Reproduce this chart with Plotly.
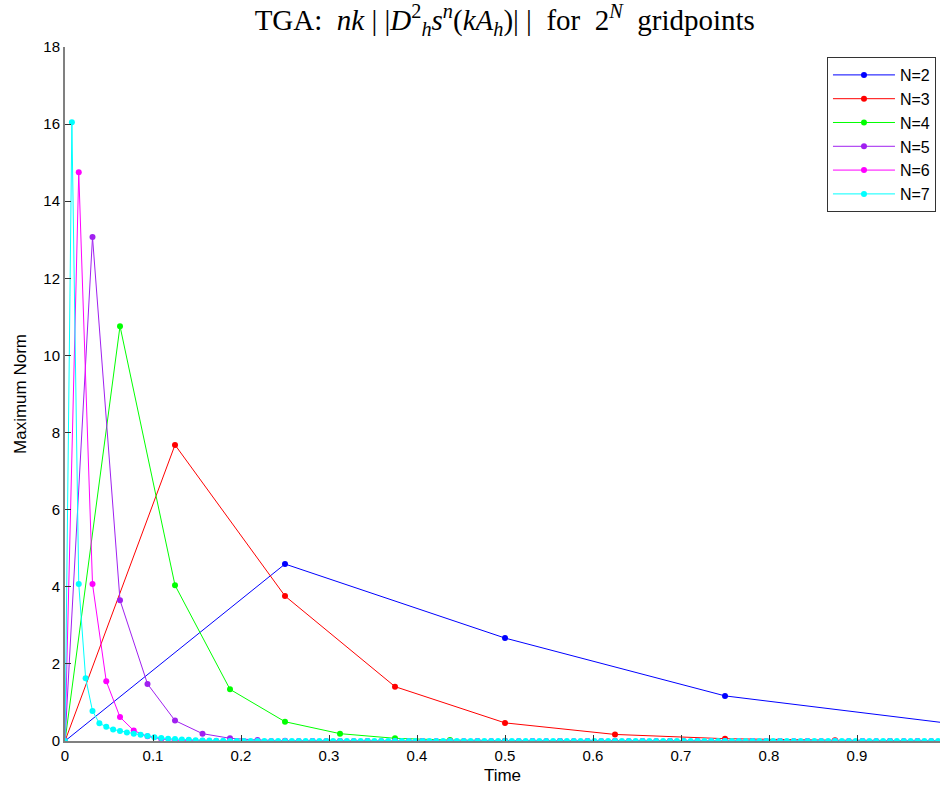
import numpy as np
import plotly.graph_objects as go

series_names = ["N=2", "N=3", "N=4", "N=5", "N=6", "N=7"]
series_colors = ["#0000ff", "#ff0000", "#00ff00", "#a020f0", "#ff00ff", "#00ffff"]

n2 = [0, 4.59, 2.67, 1.17, 0.47]
n3 = [0, 7.68, 3.76, 1.41, 0.47, 0.17, 0.06, 0.02, 0.007]
n4 = [0, 10.76, 4.04, 1.34, 0.50, 0.19, 0.07, 0.025, 0.009, 0.003,
      0.001, 0.0004, 0.0001, 0, 0, 0, 0]
n5 = [0, 13.07, 3.65, 1.48, 0.53, 0.19, 0.07, 0.025, 0.009, 0.003,
      0.001, 0, 0, 0, 0, 0, 0, 0, 0, 0,
      0, 0, 0, 0, 0, 0, 0, 0, 0, 0,
      0, 0, 0]
n6 = [0, 14.75, 4.07, 1.55, 0.62, 0.27, 0.12, 0.05, 0.02, 0.01,
      0.004, 0.002, 0.001, 0, 0, 0, 0, 0, 0, 0,
      0, 0, 0, 0, 0, 0, 0, 0, 0, 0,
      0, 0, 0, 0, 0, 0, 0, 0, 0, 0,
      0, 0, 0, 0, 0, 0, 0, 0, 0, 0,
      0, 0, 0, 0, 0, 0, 0, 0, 0, 0,
      0, 0, 0, 0, 0]
n7 = [0, 16.05, 4.07, 1.63, 0.78, 0.46, 0.37, 0.30, 0.26, 0.22,
      0.19, 0.16, 0.13, 0.10, 0.08, 0.06, 0.05, 0.04, 0.03, 0.02,
      0.015, 0.01, 0.007, 0.005, 0.003, 0.002, 0.001, 0, 0, 0,
      0, 0, 0, 0, 0, 0, 0, 0, 0, 0,
      0, 0, 0, 0, 0, 0, 0, 0, 0, 0,
      0, 0, 0, 0, 0, 0, 0, 0, 0, 0,
      0, 0, 0, 0, 0, 0, 0, 0, 0, 0,
      0, 0, 0, 0, 0, 0, 0, 0, 0, 0,
      0, 0, 0, 0, 0, 0, 0, 0, 0, 0,
      0, 0, 0, 0, 0, 0, 0, 0, 0, 0,
      0, 0, 0, 0, 0, 0, 0, 0, 0, 0,
      0, 0, 0, 0, 0, 0, 0, 0, 0, 0,
      0, 0, 0, 0, 0, 0, 0, 0, 0]
series_values = [n2, n3, n4, n5, n6, n7]

x_ticks = [0, 0.1, 0.2, 0.3, 0.4, 0.5, 0.6, 0.7, 0.8, 0.9]
x_tick_labels = ["0", "0.1", "0.2", "0.3", "0.4", "0.5", "0.6", "0.7", "0.8", "0.9"]
y_ticks = [0, 2, 4, 6, 8, 10, 12, 14, 16, 18]

fig = go.Figure()
for name, color, vals in zip(series_names, series_colors, series_values):
    m = len(vals) - 1
    t = np.arange(m + 1) / m  # time grid n*k with k = 1/2^N
    fig.add_trace(go.Scatter(
        x=t, y=vals, name=name, mode="lines+markers",
        line=dict(color=color, width=1),
        marker=dict(color=color, size=6),
        cliponaxis=True,
    ))

title_text = ("TGA:  <i>nk</i> | |<i>D</i><sup>2</sup><sub><i>h</i></sub>"
              "<i>s<sup>n</sup></i>(<i>kA<sub>h</sub></i>)| |  for  2<sup><i>N</i></sup>  gridpoints")

fig.update_layout(
    width=940, height=803,
    margin=dict(l=65, r=0, t=47, b=62),
    paper_bgcolor="white", plot_bgcolor="white",
    font=dict(family="Liberation Sans, Arial, sans-serif", size=15, color="black"),
    title=dict(text=title_text, x=0.537, xanchor="center", y=0.988, yanchor="top",
               font=dict(family="Liberation Serif, DejaVu Serif, serif", size=29, color="black")),
    showlegend=True,
    legend=dict(x=0.9954, y=0.9856, xanchor="right", yanchor="top",
                bordercolor="#333333", borderwidth=1, bgcolor="white",
                font=dict(family="Liberation Sans, Arial, sans-serif", size=16),
                itemwidth=62, tracegroupgap=0),
    xaxis=dict(range=[0, 0.9943], tickvals=x_ticks, ticktext=x_tick_labels,
               ticks="inside", ticklen=6, tickcolor="#333333", tickwidth=1,
               showline=True, linecolor="#808080", linewidth=2, showgrid=False, zeroline=False,
               title=dict(text="Time", standoff=6, font=dict(size=17)),
               tickfont=dict(size=15)),
    yaxis=dict(range=[0, 18], tickvals=y_ticks,
               ticks="inside", ticklen=6, tickcolor="#333333", tickwidth=1,
               showline=True, linecolor="#808080", linewidth=2, showgrid=False, zeroline=False,
               title=dict(text="Maximum Norm", standoff=12, font=dict(size=17)),
               tickfont=dict(size=15)),
)

fig.write_html("out.html")
